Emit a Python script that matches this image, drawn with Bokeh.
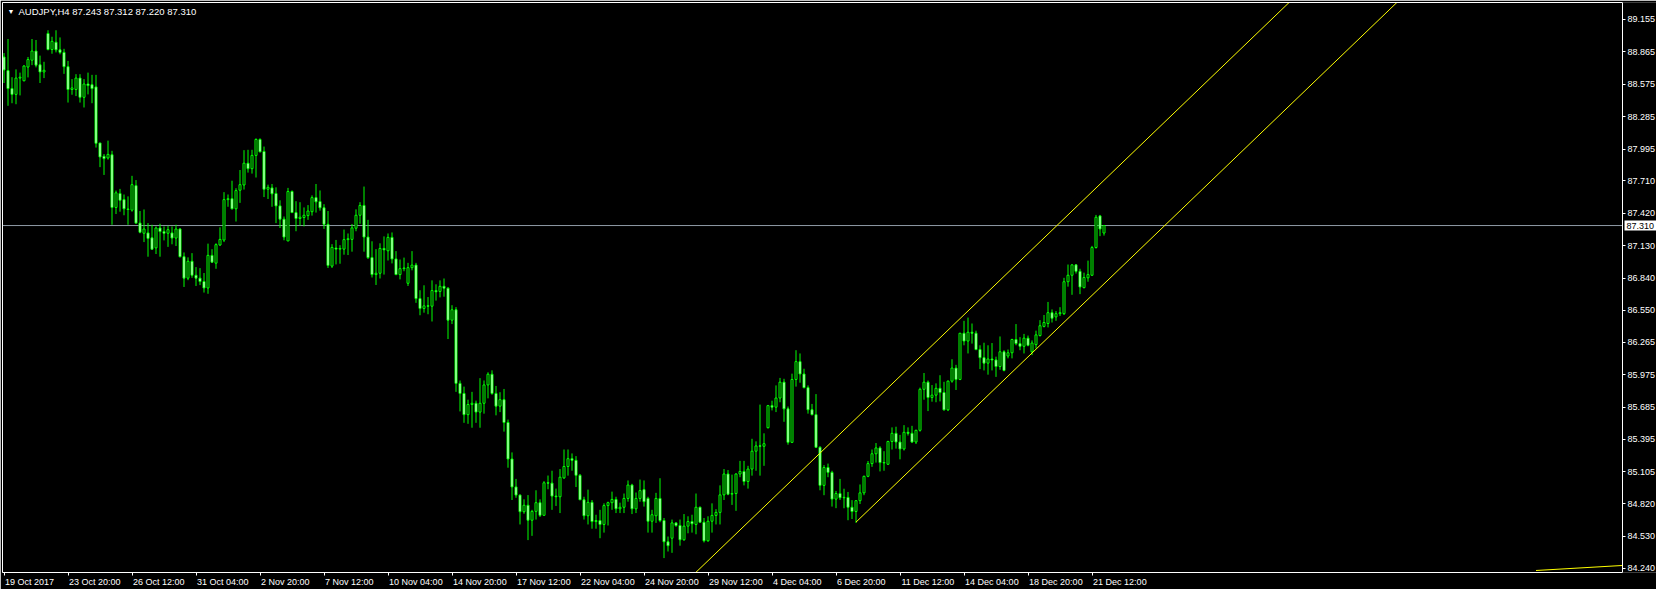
from bokeh.plotting import figure
from bokeh.models import Label, FixedTicker, PrintfTickFormatter, ColumnDataSource, LinearAxis
from bokeh.embed import file_html
from bokeh.resources import INLINE

symbol = "AUDJPY,H4"

opens = [
    88.819, 88.697, 88.536, 88.484, 88.630, 88.606, 88.729, 88.790, 88.872, 88.749,
    88.685, 89.029, 88.886, 88.951, 88.883, 88.860, 88.732, 88.528, 88.528, 88.630,
    88.458, 88.577, 88.571, 88.551, 88.049, 87.930, 87.915, 87.944, 87.472, 87.597,
    87.542, 87.457, 87.448, 87.667, 87.332, 87.241, 87.244, 87.200, 87.110, 87.288,
    87.256, 87.241, 87.244, 87.198, 87.279, 87.031, 86.839, 86.990, 86.865, 86.839,
    86.809, 86.751, 87.043, 86.973, 87.136, 87.180, 87.542, 87.550, 87.460, 87.626,
    87.673, 87.868, 87.819, 87.938, 88.081, 87.973, 87.635, 87.647, 87.597, 87.486,
    87.367, 87.172, 87.615, 87.426, 87.373, 87.382, 87.399, 87.434, 87.560, 87.525,
    87.469, 87.321, 86.947, 87.108, 87.099, 87.099, 87.184, 87.186, 87.286, 87.402,
    87.490, 87.207, 87.023, 86.871, 86.883, 87.105, 87.084, 87.204, 87.011, 86.871,
    86.924, 86.793, 86.933, 86.956, 86.656, 86.568, 86.591, 86.588, 86.728, 86.720,
    86.766, 86.749, 86.463, 86.556, 85.897, 85.807, 85.617, 85.708, 85.719, 85.640,
    85.719, 85.883, 85.979, 85.807, 85.693, 85.751, 85.547, 85.220, 84.970, 84.897,
    84.748, 84.806, 84.672, 84.751, 84.829, 84.716, 85.007, 85.004, 84.888, 84.882,
    85.051, 85.153, 85.223, 85.208, 85.074, 84.855, 84.712, 84.832, 84.660, 84.669,
    84.634, 84.803, 84.829, 84.858, 84.774, 84.788, 84.867, 84.987, 84.774, 84.867,
    84.946, 84.867, 84.663, 84.712, 84.867, 84.669, 84.479, 84.511, 84.648, 84.625,
    84.497, 84.619, 84.660, 84.634, 84.788, 84.654, 84.488, 84.663, 84.715, 84.742,
    84.899, 85.086, 84.905, 84.911, 85.086, 85.109, 85.019, 85.130, 85.290, 85.337,
    85.334, 85.500, 85.698, 85.684, 85.766, 85.908, 85.669, 85.369, 85.932, 86.092,
    85.981, 85.859, 85.661, 85.617, 85.325, 84.984, 85.144, 85.100, 84.861, 84.911,
    84.873, 84.876, 84.788, 84.750, 84.847, 84.917, 85.065, 85.179, 85.267, 85.319,
    85.188, 85.173, 85.377, 85.450, 85.372, 85.310, 85.459, 85.450, 85.372, 85.477,
    85.844, 85.908, 85.771, 85.792, 85.853, 85.815, 85.660, 85.917, 86.034, 85.932,
    86.346, 86.276, 86.355, 86.346, 86.200, 86.127, 86.078, 86.115, 86.107, 86.048,
    86.180, 86.142, 86.171, 86.290, 86.253, 86.229, 86.302, 86.180, 86.244, 86.325,
    86.407, 86.433, 86.530, 86.492, 86.521, 86.521, 86.807, 86.865, 86.958, 86.900,
    86.754, 86.842, 86.865, 87.113, 87.396, 87.243,
]

highs = [
    88.854, 88.980, 88.638, 88.708, 88.679, 88.746, 88.819, 88.980, 88.971, 88.831,
    88.776, 89.058, 89.000, 89.058, 88.994, 88.892, 88.784, 88.621, 88.665, 88.665,
    88.621, 88.679, 88.659, 88.659, 88.049, 87.950, 88.070, 87.979, 87.623, 87.638,
    87.588, 87.571, 87.755, 87.717, 87.440, 87.454, 87.332, 87.317, 87.302, 87.326,
    87.302, 87.308, 87.302, 87.317, 87.288, 87.069, 87.025, 87.063, 86.938, 86.929,
    86.885, 87.148, 87.098, 87.151, 87.294, 87.609, 87.588, 87.711, 87.644, 87.807,
    87.985, 87.988, 87.988, 88.090, 88.090, 88.017, 87.676, 87.682, 87.652, 87.536,
    87.391, 87.647, 87.624, 87.528, 87.519, 87.472, 87.493, 87.580, 87.682, 87.624,
    87.501, 87.440, 87.143, 87.181, 87.134, 87.274, 87.239, 87.324, 87.455, 87.519,
    87.659, 87.361, 87.169, 87.099, 87.151, 87.213, 87.239, 87.248, 87.081, 87.006,
    87.023, 86.976, 87.081, 86.976, 86.731, 86.775, 86.670, 86.819, 86.784, 86.819,
    86.836, 86.758, 86.597, 86.580, 85.923, 85.868, 85.751, 85.821, 85.743, 85.944,
    85.923, 85.996, 86.014, 85.874, 85.818, 85.847, 85.573, 85.279, 85.042, 84.903,
    84.859, 84.897, 84.765, 84.940, 84.859, 85.022, 85.072, 85.115, 84.955, 85.130,
    85.305, 85.305, 85.270, 85.246, 85.086, 84.882, 84.946, 84.853, 84.721, 84.765,
    84.823, 84.838, 84.928, 84.882, 84.829, 84.911, 85.028, 84.998, 84.920, 85.036,
    85.028, 84.882, 84.765, 84.917, 85.048, 84.692, 84.526, 84.678, 84.654, 84.678,
    84.727, 84.707, 84.721, 84.911, 84.794, 84.692, 84.707, 84.823, 84.771, 84.984,
    85.130, 85.121, 85.080, 85.092, 85.203, 85.203, 85.159, 85.401, 85.378, 85.707,
    85.450, 85.704, 85.742, 85.879, 85.946, 85.938, 85.690, 85.984, 86.194, 86.165,
    86.028, 85.879, 85.713, 85.801, 85.334, 85.165, 85.179, 85.115, 84.934, 85.042,
    84.954, 84.925, 84.852, 84.852, 84.992, 85.071, 85.202, 85.305, 85.363, 85.334,
    85.290, 85.383, 85.503, 85.509, 85.436, 85.523, 85.503, 85.517, 85.482, 85.859,
    85.990, 85.923, 85.882, 85.897, 85.970, 85.911, 85.923, 86.113, 86.063, 86.346,
    86.457, 86.486, 86.433, 86.369, 86.238, 86.261, 86.238, 86.258, 86.136, 86.317,
    86.194, 86.200, 86.296, 86.428, 86.311, 86.340, 86.325, 86.282, 86.369, 86.463,
    86.509, 86.626, 86.559, 86.544, 86.579, 86.842, 86.961, 86.964, 86.961, 86.923,
    86.888, 86.996, 87.128, 87.405, 87.405, 87.312,
]

lows = [
    88.586, 88.382, 88.405, 88.396, 88.475, 88.601, 88.636, 88.746, 88.726, 88.586,
    88.630, 88.878, 88.848, 88.860, 88.843, 88.668, 88.411, 88.481, 88.469, 88.411,
    88.367, 88.484, 88.405, 88.008, 87.833, 87.763, 87.900, 87.317, 87.413, 87.434,
    87.402, 87.317, 87.434, 87.326, 87.241, 87.162, 87.031, 87.093, 87.055, 87.031,
    87.177, 87.119, 87.142, 87.127, 87.025, 86.760, 86.821, 86.842, 86.769, 86.777,
    86.710, 86.699, 86.976, 86.923, 87.127, 87.162, 87.478, 87.454, 87.346, 87.513,
    87.632, 87.784, 87.775, 87.740, 87.965, 87.565, 87.548, 87.478, 87.332, 87.288,
    87.178, 87.172, 87.426, 87.259, 87.309, 87.303, 87.361, 87.399, 87.426, 87.443,
    87.280, 86.930, 86.930, 86.962, 86.968, 87.049, 87.046, 87.076, 87.259, 87.326,
    87.076, 87.011, 86.845, 86.778, 86.836, 86.871, 86.997, 86.971, 86.866, 86.828,
    86.901, 86.769, 86.909, 86.618, 86.507, 86.530, 86.516, 86.451, 86.638, 86.667,
    86.673, 86.294, 86.428, 85.821, 85.646, 85.544, 85.535, 85.500, 85.544, 85.500,
    85.626, 85.763, 85.795, 85.611, 85.640, 85.465, 85.142, 84.853, 84.873, 84.634,
    84.730, 84.494, 84.532, 84.678, 84.701, 84.716, 84.949, 84.765, 84.800, 84.736,
    85.042, 85.071, 85.115, 84.969, 84.853, 84.678, 84.634, 84.596, 84.596, 84.511,
    84.561, 84.625, 84.765, 84.736, 84.736, 84.736, 84.838, 84.727, 84.736, 84.838,
    84.794, 84.561, 84.561, 84.648, 84.654, 84.333, 84.392, 84.380, 84.613, 84.444,
    84.488, 84.555, 84.561, 84.546, 84.648, 84.473, 84.479, 84.561, 84.634, 84.634,
    84.853, 84.896, 84.809, 84.756, 85.057, 84.984, 84.955, 85.071, 85.115, 85.071,
    85.159, 85.494, 85.655, 85.640, 85.728, 85.553, 85.348, 85.363, 85.868, 85.903,
    85.853, 85.626, 85.611, 85.319, 84.940, 84.896, 85.057, 84.794, 84.780, 84.853,
    84.779, 84.672, 84.683, 84.648, 84.817, 84.896, 85.057, 85.150, 85.188, 85.109,
    85.115, 85.167, 85.305, 85.313, 85.217, 85.296, 85.430, 85.363, 85.354, 85.465,
    85.751, 85.649, 85.733, 85.728, 85.736, 85.654, 85.649, 85.903, 85.838, 85.926,
    86.238, 86.165, 86.253, 86.194, 86.025, 86.013, 85.975, 86.013, 85.955, 86.019,
    86.005, 86.121, 86.121, 86.238, 86.194, 86.165, 86.229, 86.150, 86.209, 86.317,
    86.398, 86.398, 86.442, 86.457, 86.500, 86.509, 86.763, 86.690, 86.880, 86.696,
    86.748, 86.807, 86.859, 87.104, 87.215, 87.220,
]

closes = [
    88.703, 88.536, 88.484, 88.630, 88.638, 88.738, 88.796, 88.872, 88.746, 88.685,
    88.700, 88.886, 88.959, 88.883, 88.860, 88.732, 88.528, 88.542, 88.630, 88.458,
    88.577, 88.563, 88.536, 88.046, 87.924, 87.909, 87.947, 87.472, 87.603, 87.536,
    87.460, 87.454, 87.676, 87.332, 87.250, 87.279, 87.195, 87.098, 87.288, 87.256,
    87.241, 87.273, 87.198, 87.279, 87.031, 86.839, 86.990, 86.865, 86.839, 86.809,
    86.751, 87.043, 86.982, 87.139, 87.186, 87.542, 87.550, 87.460, 87.623, 87.676,
    87.868, 87.819, 87.938, 88.081, 87.970, 87.635, 87.652, 87.594, 87.486, 87.367,
    87.207, 87.615, 87.426, 87.373, 87.385, 87.402, 87.440, 87.560, 87.522, 87.469,
    87.321, 86.953, 87.114, 87.099, 87.105, 87.184, 87.192, 87.289, 87.402, 87.490,
    87.207, 87.023, 86.871, 86.883, 87.105, 87.093, 87.204, 87.011, 86.871, 86.924,
    86.930, 86.933, 86.956, 86.656, 86.568, 86.591, 86.588, 86.728, 86.717, 86.766,
    86.749, 86.463, 86.556, 85.897, 85.807, 85.617, 85.708, 85.719, 85.640, 85.719,
    85.883, 85.979, 85.807, 85.693, 85.751, 85.547, 85.220, 84.970, 84.897, 84.748,
    84.806, 84.672, 84.751, 84.829, 84.716, 85.007, 85.004, 84.888, 84.882, 85.057,
    85.153, 85.223, 85.208, 85.074, 84.855, 84.712, 84.832, 84.660, 84.669, 84.634,
    84.803, 84.829, 84.858, 84.774, 84.788, 84.867, 84.987, 84.774, 84.867, 84.937,
    84.838, 84.663, 84.721, 84.867, 84.669, 84.479, 84.444, 84.648, 84.625, 84.497,
    84.619, 84.660, 84.640, 84.788, 84.654, 84.488, 84.663, 84.715, 84.742, 84.899,
    85.086, 84.905, 84.911, 85.086, 85.109, 85.019, 85.130, 85.290, 85.337, 85.334,
    85.357, 85.698, 85.684, 85.766, 85.908, 85.669, 85.369, 85.932, 86.092, 85.981,
    85.859, 85.661, 85.617, 85.325, 84.984, 85.144, 85.100, 84.861, 84.911, 84.873,
    84.876, 84.788, 84.750, 84.847, 84.917, 85.065, 85.179, 85.267, 85.319, 85.188,
    85.185, 85.377, 85.450, 85.372, 85.310, 85.459, 85.450, 85.372, 85.477, 85.844,
    85.908, 85.771, 85.792, 85.853, 85.815, 85.660, 85.917, 86.034, 85.932, 86.346,
    86.276, 86.355, 86.346, 86.200, 86.127, 86.078, 86.115, 86.107, 86.048, 86.180,
    86.013, 86.171, 86.290, 86.253, 86.229, 86.302, 86.238, 86.258, 86.331, 86.413,
    86.442, 86.530, 86.480, 86.521, 86.530, 86.807, 86.865, 86.958, 86.900, 86.760,
    86.845, 86.871, 87.113, 87.384, 87.279, 87.310,
]

price_ticks = [84.240, 84.530, 84.820, 85.105, 85.395, 85.685, 85.975, 86.265, 86.550,
               86.840, 87.130, 87.420, 87.710, 87.995, 88.285, 88.575, 88.865, 89.155]

time_tick_bars = [0, 16, 32, 48, 64, 80, 96, 112, 128, 144, 160, 176, 192, 208, 224, 240, 256, 272]
time_tick_labels = ["19 Oct 2017", "23 Oct 20:00", "26 Oct 12:00", "31 Oct 04:00", "2 Nov 20:00",
                    "7 Nov 12:00", "10 Nov 04:00", "14 Nov 20:00", "17 Nov 12:00", "22 Nov 04:00",
                    "24 Nov 20:00", "29 Nov 12:00", "4 Dec 04:00", "6 Dec 20:00", "11 Dec 12:00",
                    "14 Dec 04:00", "18 Dec 20:00", "21 Dec 12:00"]

current_price = 87.310

# drawn objects: equidistant channel and a trend line (bar index, price)
channel_lower_x = [213, 360]
channel_lower_y = [84.655, 89.712]
channel_upper_x = [160, 360]
channel_upper_y = [83.759, 90.639]
trend_x = [383, 410]
trend_y = [84.222, 84.278]

# ---------------- layout ----------------
W, H = 1656, 589
B_L, B_T, B_R, B_B = 2, 2, 0, 15
FRAME_W = W - B_L - B_R
BAR_PX = 4.0
AXIS_PX = 1622                      # canvas x of the price scale line
X0 = -0.375
X1 = X0 + FRAME_W / BAR_PX
X_AX = X0 + (AXIS_PX - B_L) / BAR_PX
Y_TOP, Y_BOT = 89.3067, 84.2040

FONT = "Liberation Sans"
FS = "9px"
LIME = "#00FF00"
YELLOW = "#FFFF00"

n = len(closes)
idx = list(range(n))
tops, bots, fills = [], [], []
for o, c in zip(opens, closes):
    hi, lo = max(o, c), min(o, c)
    if hi - lo < 0.004:
        hi = lo + 0.004
    tops.append(hi)
    bots.append(lo)
    fills.append("black" if c >= o else "white")

src = ColumnDataSource(dict(x=idx, high=highs, low=lows, top=tops, bottom=bots, fill=fills))

p = figure(width=W, height=H, x_range=(X0, X1), y_range=(Y_BOT, Y_TOP),
           output_backend="svg", toolbar_location=None, tools="",
           y_axis_location="right", x_axis_location="below",
           min_border_left=B_L, min_border_top=B_T,
           min_border_right=B_R, min_border_bottom=B_B,
           background_fill_color="black", border_fill_color="black",
           outline_line_color=None)
p.grid.visible = False

# the figure's own axes (grab them before adding border rules)
xa = p.below[0]
ya = p.right[0]

# chart border (top and left) as bare axis rules
top_ax = LinearAxis(ticker=FixedTicker(ticks=[]), axis_line_color="white",
                    major_tick_out=0, major_tick_in=0, minor_tick_out=0, minor_tick_in=0,
                    bounds=(X0, X_AX), axis_label=None)
p.add_layout(top_ax, "above")
left_ax = LinearAxis(ticker=FixedTicker(ticks=[]), axis_line_color="white",
                     major_tick_out=0, major_tick_in=0, minor_tick_out=0, minor_tick_in=0,
                     axis_label=None)
p.add_layout(left_ax, "left")

# price line (up to the price scale)
p.segment(x0=[X0], y0=[current_price], x1=[X_AX], y1=[current_price],
          line_color="#8F9AA6", line_width=1)

# candles
p.segment(x0="x", y0="low", x1="x", y1="high", source=src, line_color=LIME, line_width=1)
p.vbar(x="x", width=0.5, top="top", bottom="bottom", source=src,
       fill_color="fill", line_color=LIME, line_width=1)

# channel & trend line
p.line(channel_upper_x, channel_upper_y, line_color=YELLOW, line_width=1)
p.line(channel_lower_x, channel_lower_y, line_color=YELLOW, line_width=1)
t_slope = (trend_y[1] - trend_y[0]) / (trend_x[1] - trend_x[0])
p.line([trend_x[0], X_AX], [trend_y[0], trend_y[0] + t_slope * (X_AX - trend_x[0])],
       line_color=YELLOW, line_width=1)

# ---------------- x axis (labels left-aligned at their tick) ----------------
cw = {" ": 0.278, ":": 0.278, "O": 0.778, "c": 0.5, "t": 0.278, "N": 0.722,
      "o": 0.556, "v": 0.5, "D": 0.722, "e": 0.556}
def text_w(s, size=9.0):
    return sum(cw.get(ch, 0.556) for ch in s) * size

centers, overrides = [], {}
for b, lbl in zip(time_tick_bars, time_tick_labels):
    cpos = b + (text_w(lbl) / 2.0 + 1.0) / BAR_PX
    cpos = round(cpos * 16) / 16.0 + 1.0 / 32.0
    centers.append(cpos)
    overrides[cpos] = lbl

xa.ticker = FixedTicker(ticks=centers, minor_ticks=time_tick_bars)
xa.major_label_overrides = overrides
xa.major_tick_line_color = None
xa.major_tick_out = 3
xa.major_tick_in = 0
xa.minor_tick_line_color = "white"
xa.minor_tick_out = 3
xa.minor_tick_in = 0
xa.axis_line_color = "white"
xa.major_label_text_color = "white"
xa.major_label_text_font = FONT
xa.major_label_text_font_size = FS
xa.major_label_standoff = 1
xa.axis_label = None
xa.bounds = (X0, X_AX)

# ---------------- y axis (price scale, fixed inside the canvas) ----------------
ya.ticker = FixedTicker(ticks=price_ticks, minor_ticks=[])
ya.formatter = PrintfTickFormatter(format="%.3f")
ya.fixed_location = X_AX
ya.major_tick_line_color = "white"
ya.major_tick_out = 3
ya.major_tick_in = 0
ya.axis_line_color = "white"
ya.major_label_text_color = "white"
ya.major_label_text_font = FONT
ya.major_label_text_font_size = FS
ya.major_label_standoff = 2
ya.axis_label = None

# current price box on the price scale
p.add_layout(Label(x=X_AX + 0.5, y=current_price, x_units="data", y_units="data",
                   text=f"{current_price:.3f}", text_color="black", text_font=FONT,
                   text_font_size=FS, text_align="left", text_baseline="middle",
                   background_fill_color="white", padding=2))

# title
p.add_layout(Label(x=0.875, y=89.229, x_units="data", y_units="data",
                   text="\u25bc", text_color="white", text_font=FONT,
                   text_font_size="7px", text_align="left", text_baseline="middle"))
title = f"{symbol}  {opens[-1]:.3f} {highs[-1]:.3f} {lows[-1]:.3f} {closes[-1]:.3f}"
p.add_layout(Label(x=3.625, y=89.229, x_units="data", y_units="data",
                   text=title, text_color="white", text_font=FONT,
                   text_font_size="9.5px", text_align="left", text_baseline="middle"))

open("out.html", "w").write(file_html(p, INLINE))
